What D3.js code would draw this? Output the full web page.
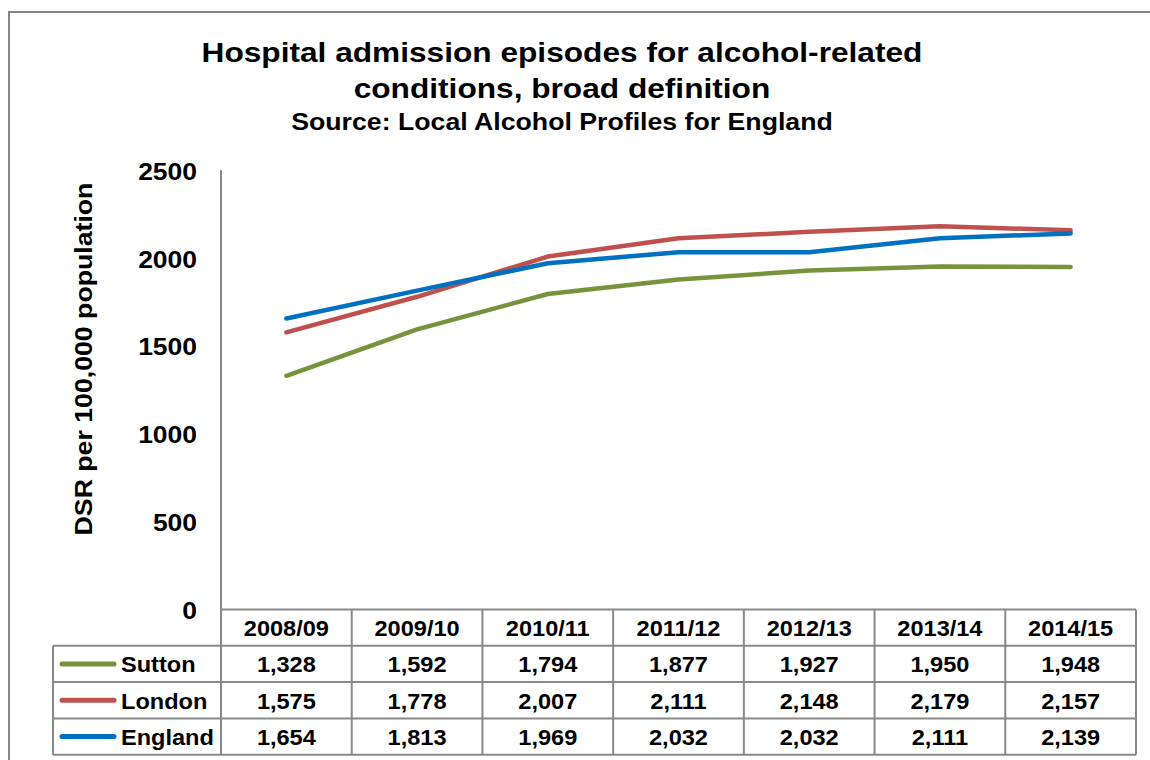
<!DOCTYPE html>
<html>
<head>
<meta charset="utf-8">
<script src="https://cdn.jsdelivr.net/npm/d3@7"></script>
<style>
  body { margin: 0; background: #fff; }
  svg text { font-family: "Liberation Sans", Arial, sans-serif; font-weight: bold; fill: #000; }
</style>
</head>
<body>
<div class="chart"></div>
<script>
var years = ['2008/09', '2009/10', '2010/11', '2011/12', '2012/13', '2013/14', '2014/15'],
    sutton = [1328, 1592, 1794, 1877, 1927, 1950, 1948],
    london = [1575, 1778, 2007, 2111, 2148, 2179, 2157],
    england = [1654, 1813, 1969, 2032, 2032, 2111, 2139],
    yTicks = [0, 500, 1000, 1500, 2000, 2500]

var series = [
    { name: 'Sutton', values: sutton, color: '#77933C' },
    { name: 'London', values: london, color: '#C0504D' },
    { name: 'England', values: england, color: '#0070C0' },
]

var width = 1150,
    height = 760,
    gridColor = '#898989',
    plotLeft = 221,
    plotRight = 1136,
    plotTop = 170,
    plotBottom = 609,
    rowH = 36.3,
    tableTop = 609.5,
    legendLeft = 53

// растягиваем текст по ширине, как в оригинале (Excel рисует шире)
function stretch(sel, k) {
    sel.each(function () {
        var w = this.getComputedTextLength()
        d3.select(this)
            .attr('textLength', w * k)
            .attr('lengthAdjust', 'spacingAndGlyphs')
    })
}

var svg = d3
    .select('.chart')
    .append('svg')
    .attr('width', width)
    .attr('height', height)

// рамка
svg.append('rect')
    .attr('x', 9)
    .attr('y', 12)
    .attr('width', width + 20)
    .attr('height', height + 20)
    .attr('fill', 'none')
    .attr('stroke', '#868686')
    .attr('stroke-width', 2)

// заголовок
var titles = svg.append('g').attr('text-anchor', 'middle')
titles.append('text')
    .attr('x', 562)
    .attr('y', 62)
    .style('font-size', '28px')
    .text('Hospital admission episodes for alcohol-related')
titles.append('text')
    .attr('x', 562)
    .attr('y', 98)
    .style('font-size', '28px')
    .text('conditions, broad definition')
stretch(titles.selectAll('text'), 1.13)
stretch(
    titles.append('text')
        .attr('x', 562)
        .attr('y', 130)
        .style('font-size', '23px')
        .text('Source: Local Alcohol Profiles for England'),
    1.16
)

var x = d3.scaleBand().domain(years).range([plotLeft, plotRight])
var y = d3.scaleLinear().domain([0, 2500]).range([plotBottom, plotTop])

// ось Y
var yAxis = svg.append('g')
    .attr('transform', 'translate(' + plotLeft + ',0)')
    .call(d3.axisLeft(y).tickValues(yTicks).tickFormat(d3.format('d')).tickSize(0).tickPadding(24))
yAxis.select('.domain').remove()
yAxis.selectAll('.tick text')
    .attr('font-family', null)
    .attr('font-size', null)
    .style('font-size', '23px')
    .attr('dy', '0.4em')
stretch(yAxis.selectAll('.tick text'), 1.15)

stretch(
    svg.append('text')
        .attr('transform', 'translate(92,359) rotate(-90)')
        .attr('text-anchor', 'middle')
        .style('font-size', '23px')
        .text('DSR per 100,000 population'),
    1.16
)

// линии
var line = d3.line()
    .x(function (d, i) { return x(years[i]) + x.bandwidth() / 2 })
    .y(function (d) { return y(d) })

svg.selectAll('.series')
    .data(series)
    .enter()
    .append('path')
    .attr('d', function (d) { return line(d.values) })
    .attr('fill', 'none')
    .attr('stroke', function (d) { return d.color })
    .attr('stroke-width', 4.5)
    .attr('stroke-linecap', 'round')
    .attr('stroke-linejoin', 'round')

// таблица
var tableBottom = tableTop + rowH * 4
var g = svg.append('g')
    .attr('stroke', gridColor)
    .attr('stroke-width', 2)

// вертикальная ось через таблицу
g.append('line')
    .attr('x1', plotLeft).attr('x2', plotLeft)
    .attr('y1', plotTop).attr('y2', tableBottom)

// горизонтальные линии
d3.range(5).forEach(function (r) {
    g.append('line')
        .attr('x1', r === 0 ? plotLeft : legendLeft)
        .attr('x2', plotRight)
        .attr('y1', tableTop + r * rowH)
        .attr('y2', tableTop + r * rowH)
})
g.append('line')
    .attr('x1', legendLeft).attr('x2', legendLeft)
    .attr('y1', tableTop + rowH).attr('y2', tableBottom)
years.forEach(function (yr) {
    g.append('line')
        .attr('x1', x(yr) + x.bandwidth()).attr('x2', x(yr) + x.bandwidth())
        .attr('y1', tableTop).attr('y2', tableBottom)
})

var cells = svg.append('g')

// заголовки колонок
cells.selectAll('.hdr')
    .data(years)
    .enter()
    .append('text')
    .attr('x', function (d) { return x(d) + x.bandwidth() / 2 })
    .attr('y', tableTop + rowH / 2 + 8.5)
    .attr('text-anchor', 'middle')
    .style('font-size', '22px')
    .text(function (d) { return d })

var fmt = d3.format(',')
series.forEach(function (s, r) {
    var cy = tableTop + rowH * (r + 1) + rowH / 2
    svg.append('line')
        .attr('x1', 62).attr('x2', 114)
        .attr('y1', cy).attr('y2', cy)
        .attr('stroke', s.color)
        .attr('stroke-width', 5)
        .attr('stroke-linecap', 'round')
    cells.append('text')
        .attr('x', 121)
        .attr('y', cy + 8.5)
        .style('font-size', '22px')
        .text(s.name)
    s.values.forEach(function (v, i) {
        cells.append('text')
            .attr('x', x(years[i]) + x.bandwidth() / 2)
            .attr('y', cy + 8.5)
            .attr('text-anchor', 'middle')
            .style('font-size', '22px')
            .text(fmt(v))
    })
})
stretch(cells.selectAll('text'), 1.07)
</script>
</body>
</html>
